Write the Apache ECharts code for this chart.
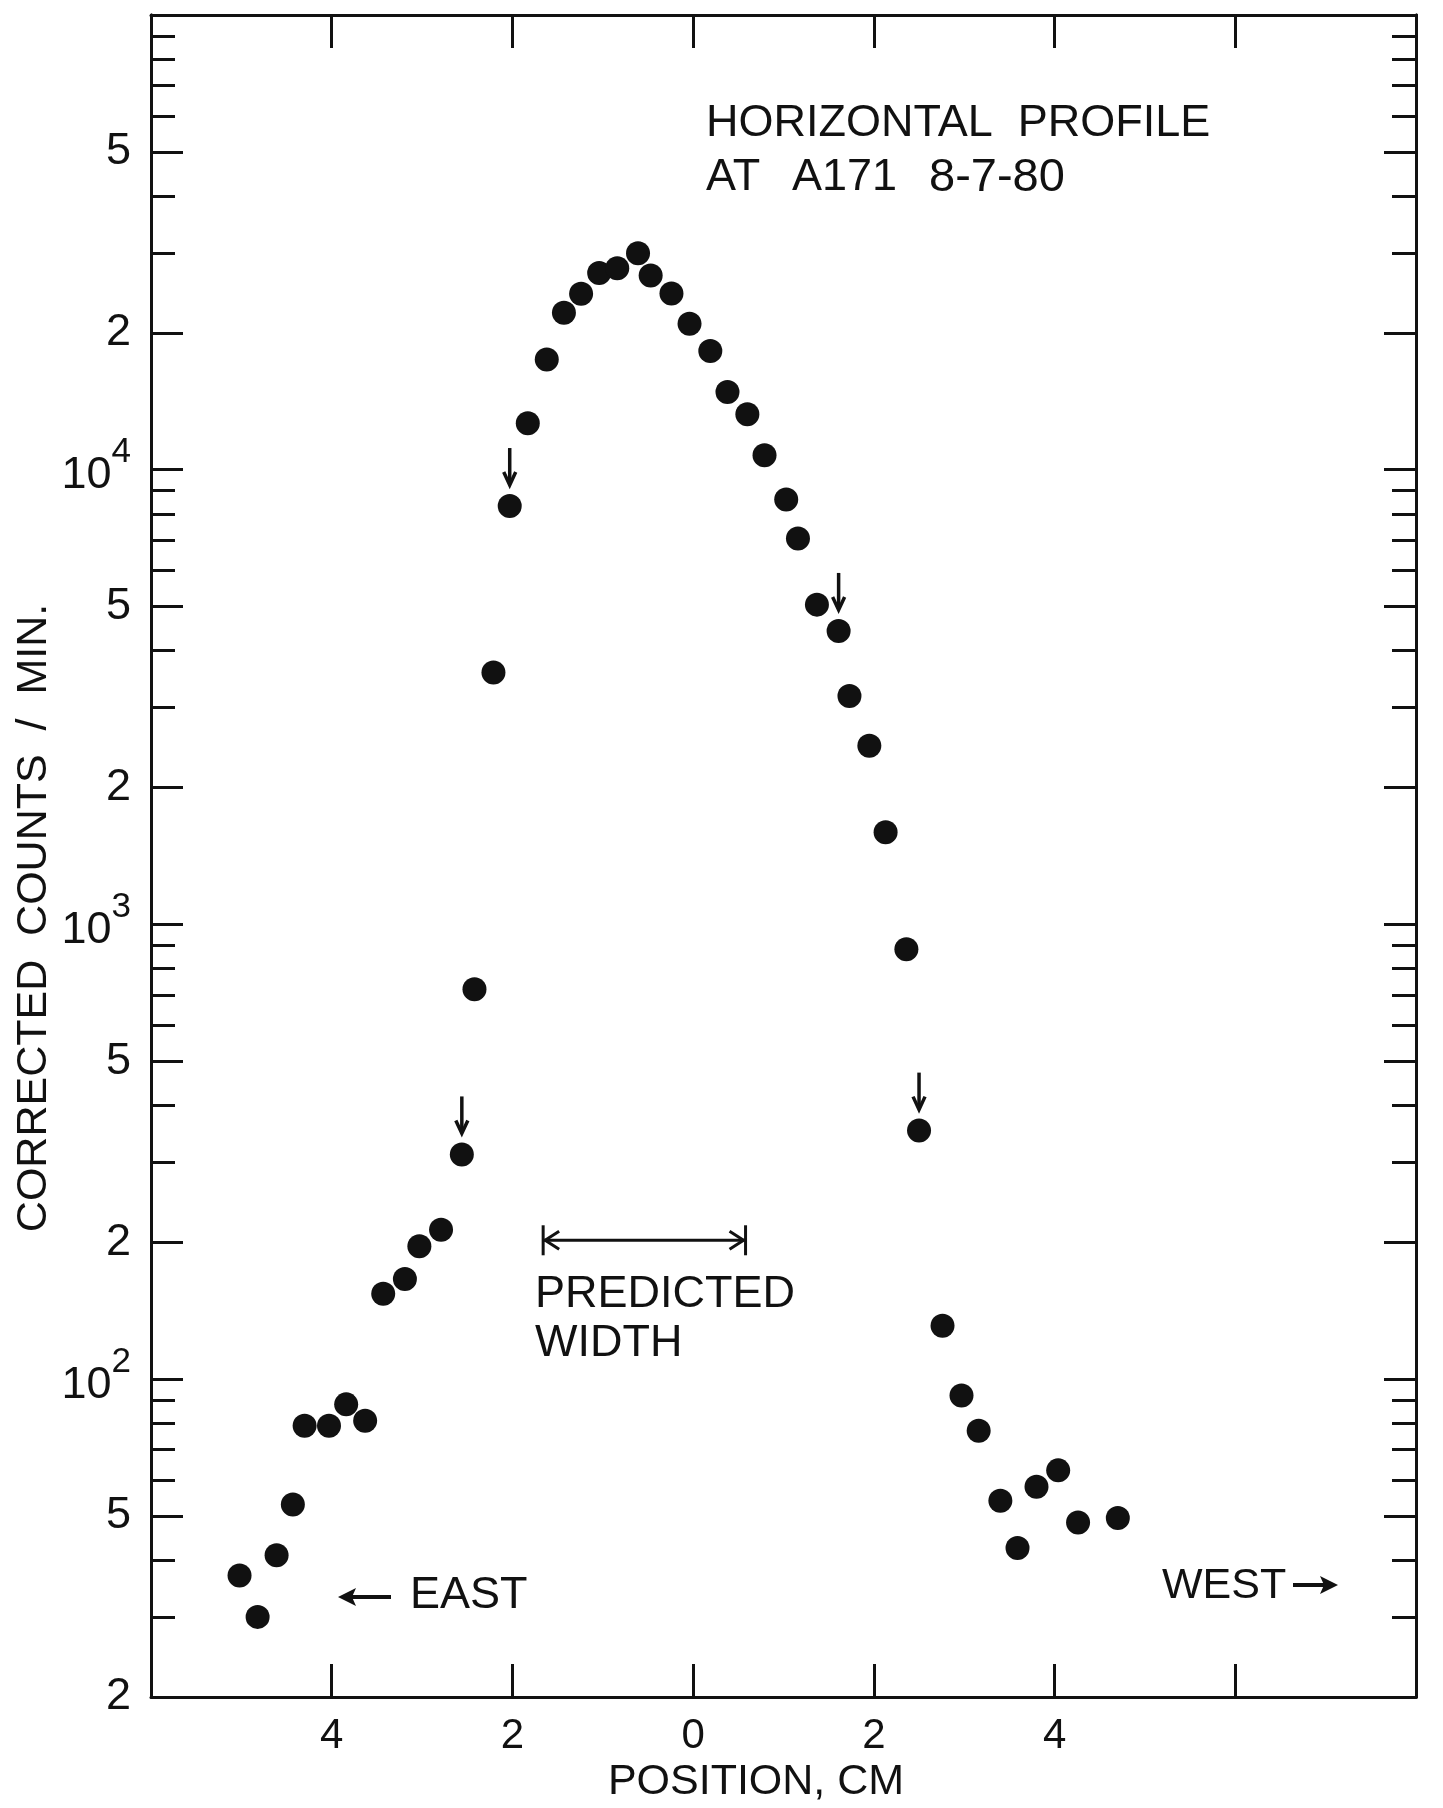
<!DOCTYPE html>
<html>
<head>
<meta charset="utf-8">
<title>Horizontal profile at A171 8-7-80</title>
<script src="https://cdn.jsdelivr.net/npm/echarts@6/dist/echarts.min.js"></script>
<style>
  html, body { margin: 0; padding: 0; background: #fff; }
  #chart { width: 1443px; height: 1808px; }
</style>
</head>
<body>
<div id="chart"></div>
<script>
// position in cm (East < 0, West > 0) and corrected counts / min
const xPos = [-5.02, -4.82, -4.61, -4.43, -4.30, -4.03, -3.84, -3.63, -3.43, -3.19,
  -3.03, -2.79, -2.56, -2.42, -2.21, -2.03, -1.83, -1.62, -1.43, -1.24,
  -1.04, -0.84, -0.61, -0.47, -0.24, -0.04, 0.19, 0.38, 0.60, 0.79,
  1.03, 1.16, 1.37, 1.61, 1.73, 1.95, 2.13, 2.36, 2.50, 2.76,
  2.97, 3.16, 3.40, 3.59, 3.80, 4.04, 4.26, 4.70];
const counts = [37, 30, 41, 53, 79, 79, 88, 81, 154, 166,
  196, 213, 312, 720, 3580, 8320, 12650, 17480, 22150, 24380,
  27080, 27750, 29920, 26750, 24400, 20950, 18250, 14820, 13250, 10760,
  8600, 7060, 5050, 4420, 3180, 2470, 1595, 882, 352, 131,
  92, 77, 54, 42.5, 58, 63, 48.4, 49.5];
// points marked with a small down arrow
const arrowIdx = [12, 15, 33, 38];
// predicted width bar: from, to, level
const predWidth = [-1.66, 0.58, 202];

// ticks / labels
const xTickVals = [-4, -2, 0, 2, 4, 6];
const xLabelVals = [-4, -2, 0, 2, 4];
const yLongTicks = [20, 50, 100, 200, 500, 1000, 2000, 5000, 10000, 20000, 50000, 100000];
const yShortTicks = [30, 40, 60, 70, 80, 90, 300, 400, 600, 700, 800, 900,
  3000, 4000, 6000, 7000, 8000, 9000, 30000, 40000, 60000, 70000, 80000, 90000];
const yLabelVals = [20, 50, 100, 200, 500, 1000, 2000, 5000, 10000, 20000, 50000];
const yLabelText = ['2', '5', '10^2', '2', '5', '10^3', '2', '5', '10^4', '2', '5'];

const fam = '"Liberation Sans", Arial, sans-serif';
const ink = '#111';

const chart = echarts.init(document.getElementById('chart'));

const lineStyle = { color: ink, width: 3 };
function xAx(pos, withLabels) {
  return {
    type: 'value', position: pos, min: -6, max: 8, interval: 2,
    axisLine: { show: true, onZero: false, lineStyle },
    axisTick: { show: true, inside: true, length: 33, lineStyle, customValues: xTickVals },
    axisLabel: withLabels ? {
      customValues: xLabelVals,
      formatter: v => String(Math.abs(v)),
      fontSize: 42, fontFamily: fam, color: ink, margin: 18
    } : { show: false },
    splitLine: { show: false }
  };
}
function yLabel(v) {
  let i = yLabelVals.findIndex(t => Math.abs(Math.log10(t) - Math.log10(v)) < 1e-4);
  if (i < 0) return '';
  const s = yLabelText[i].split('^');
  return s.length > 1 ? '{b|' + s[0] + '}{s|' + s[1] + '}' : '{n|' + s[0] + '}';
}
function yAx(pos, ticks, len, withLabels) {
  return {
    type: 'log', position: pos, min: 19.995, max: 100005,
    axisLine: { show: true, onZero: false, lineStyle },
    axisTick: { show: true, inside: true, length: len, lineStyle, customValues: ticks },
    axisLabel: withLabels ? {
      customValues: yLabelVals,
      formatter: yLabel,
      margin: 20,
      color: ink,
      rich: {
        n: { fontSize: 45, fontFamily: fam, color: ink },
        b: { fontSize: 45, fontFamily: fam, color: ink, padding: [12, 0, 0, 0] },
        s: { fontSize: 35, fontFamily: fam, color: ink, padding: [0, 0, 34, 0] }
      }
    } : { show: false },
    splitLine: { show: false },
    minorTick: { show: false }
  };
}

function textEl(x, y, text, size, extra) {
  return Object.assign({
    type: 'text', x, y,
    style: { text, fontSize: size, fontFamily: fam, fill: ink, textAlign: 'left', textVerticalAlign: 'middle' }
  }, extra || {});
}

const option = {
  backgroundColor: '#fff',
  animation: false,
  grid: { left: 151, right: 27, top: 15, bottom: 111, containLabel: false },
  xAxis: [xAx('bottom', true), xAx('top', false)],
  yAxis: [
    yAx('left', yLongTicks, 32, true),
    yAx('left', yShortTicks, 24, false),
    yAx('right', yLongTicks, 32, false),
    yAx('right', yShortTicks, 24, false)
  ],
  series: [
    {
      type: 'scatter',
      symbol: 'circle',
      symbolSize: 24,
      itemStyle: { color: ink, opacity: 1 },
      data: xPos.map((x, i) => [x, counts[i]])
    },
    {
      // small down arrows above marked points
      type: 'custom',
      clip: false,
      data: arrowIdx.map(i => [xPos[i], counts[i]]),
      renderItem: (params, api) => {
        const p = api.coord([api.value(0), api.value(1)]);
        const top = p[1] - 58, tip = p[1] - 21;
        return {
          type: 'group',
          children: [
            { type: 'line', shape: { x1: p[0], y1: top, x2: p[0], y2: tip - 2 }, style: { stroke: ink, lineWidth: 3.5 } },
            { type: 'polyline', shape: { points: [[p[0] - 6, tip - 13], [p[0], tip], [p[0] + 6, tip - 13]] },
              style: { stroke: ink, lineWidth: 3.5, fill: null } }
          ]
        };
      }
    },
    {
      // predicted width bar |<----->|
      type: 'custom',
      clip: false,
      data: [predWidth],
      renderItem: (params, api) => {
        const a = api.coord([api.value(0), api.value(2)]);
        const b = api.coord([api.value(1), api.value(2)]);
        const st = { stroke: ink, lineWidth: 3, fill: null };
        return {
          type: 'group',
          children: [
            { type: 'line', shape: { x1: a[0], y1: a[1], x2: b[0], y2: b[1] }, style: st },
            { type: 'line', shape: { x1: a[0], y1: a[1] - 15, x2: a[0], y2: a[1] + 15 }, style: st },
            { type: 'line', shape: { x1: b[0], y1: b[1] - 15, x2: b[0], y2: b[1] + 15 }, style: st },
            { type: 'polyline', shape: { points: [[a[0] + 16, a[1] - 9], [a[0] + 2, a[1]], [a[0] + 16, a[1] + 9]] }, style: st },
            { type: 'polyline', shape: { points: [[b[0] - 16, b[1] - 9], [b[0] - 2, b[1]], [b[0] - 16, b[1] + 9]] }, style: st }
          ]
        };
      }
    }
  ],
  graphic: [
    textEl(706, 124, 'HORIZONTAL  PROFILE', 45),
    textEl(706, 178, 'AT', 45),
    textEl(792, 178, 'A171', 45),
    textEl(929, 178, '8-7-80', 47),
    textEl(535, 1295, 'PREDICTED', 45),
    textEl(535, 1344, 'WIDTH', 45),
    textEl(410, 1596, 'EAST', 45),
    textEl(1162, 1586, 'WEST', 43),
    textEl(756, 1782, 'POSITION, CM', 43, {}),
    textEl(34, 918, 'CORRECTED  COUNTS  /  MIN.', 43, { rotation: Math.PI / 2 }),
    // east arrow
    { type: 'line', shape: { x1: 350, y1: 1597, x2: 391, y2: 1597 }, style: { stroke: ink, lineWidth: 4 } },
    { type: 'polygon', shape: { points: [[338, 1597], [356, 1588], [352, 1597], [356, 1606]] }, style: { fill: ink } },
    // west arrow
    { type: 'line', shape: { x1: 1293, y1: 1585, x2: 1325, y2: 1585 }, style: { stroke: ink, lineWidth: 4 } },
    { type: 'polygon', shape: { points: [[1338, 1585], [1320, 1576], [1324, 1585], [1320, 1594]] }, style: { fill: ink } }
  ]
};
// centre the axis titles
option.graphic[8].style.textAlign = 'center';
option.graphic[9].style.textAlign = 'center';

chart.setOption(option);
</script>
</body>
</html>
